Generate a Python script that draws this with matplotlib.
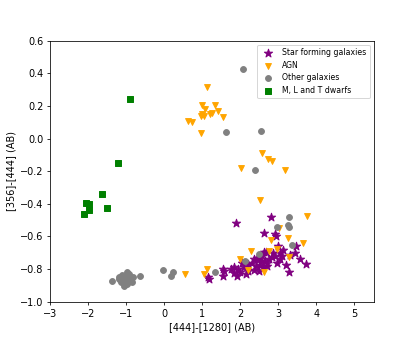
import matplotlib
matplotlib.use("Agg")
import matplotlib.pyplot as plt
import numpy as np

# colour-colour data
sf_x = [1.89, 2.81, 2.63, 2.94, 2.92, 3.45, 3.03, 3.57, 3.73, 3.29, 3.20, 3.30, 3.44,
        2.68, 1.18, 1.55, 1.54, 1.82, 2.00, 1.82, 1.95, 2.36, 2.52, 2.69, 2.47, 2.83,
        3.04, 2.63, 1.16, 1.58, 2.10, 2.20, 2.30, 2.40, 2.45, 2.55, 2.60, 2.75, 2.90,
        3.10, 2.20, 2.05, 1.75, 2.70, 2.85, 2.95, 3.12, 2.58, 2.35, 1.90, 2.15, 2.50,
        3.00, 2.65]
sf_y = [-0.52, -0.48, -0.576, -0.598, -0.585, -0.66, -0.70, -0.74, -0.77, -0.817, -0.776,
        -0.715, -0.704, -0.694, -0.858, -0.84, -0.80, -0.786, -0.82, -0.827, -0.80, -0.807,
        -0.776, -0.762, -0.745, -0.729, -0.74, -0.694, -0.85, -0.81, -0.79, -0.77, -0.76,
        -0.78, -0.73, -0.75, -0.79, -0.74, -0.72, -0.72, -0.81, -0.76, -0.80, -0.78, -0.70,
        -0.76, -0.68, -0.72, -0.74, -0.84, -0.83, -0.81, -0.66, -0.75]

agn_x = [1.12, 0.99, 1.06, 1.32, 1.00, 0.96, 1.20, 1.26, 1.41, 1.53, 0.61, 0.72, 0.97,
         1.05, 2.57, 2.73, 2.84, 2.01, 3.18, 2.52, 3.75, 3.02, 2.80, 3.24, 3.64, 2.28,
         2.74, 2.96, 1.99, 3.29, 1.13, 1.04, 2.63, 2.21, 0.54]
agn_y = [0.314, 0.207, 0.181, 0.205, 0.15, 0.14, 0.148, 0.158, 0.17, 0.13, 0.109, 0.101,
         0.034, 0.14, -0.087, -0.128, -0.136, -0.183, -0.193, -0.377, -0.474, -0.547,
         -0.623, -0.612, -0.639, -0.688, -0.688, -0.678, -0.741, -0.725, -0.80, -0.833,
         -0.817, -0.807, -0.833]

oth_x = [2.06, 1.62, 2.53, 2.38, 3.27, 3.26, 3.29, 2.95, 3.35, 2.48, 2.12, 1.33,
         -1.37, -1.12, -0.99, -1.06, -0.82, -0.64, -0.03, 0.24, 0.18, -1.20, -1.15,
         -1.05, -0.95, -0.90, -0.85, -1.10, -1.00, -0.92, -1.18, -0.97]
oth_y = [0.426, 0.042, 0.046, -0.195, -0.48, -0.527, -0.545, -0.545, -0.653, -0.705,
         -0.752, -0.82, -0.874, -0.837, -0.817, -0.905, -0.848, -0.843, -0.807, -0.817,
         -0.843, -0.86, -0.88, -0.85, -0.86, -0.87, -0.88, -0.86, -0.875, -0.83, -0.85,
         -0.89]

dw_x = [-0.90, -1.23, -1.65, -2.05, -1.98, -1.97, -2.10, -1.50]
dw_y = [0.24, -0.15, -0.34, -0.395, -0.40, -0.435, -0.46, -0.425]


def plot():
    fig, ax = plt.subplots(figsize=(415 / 70, 339 / 70), dpi=70)
    fig.subplots_adjust(left=0.121, right=0.9, top=0.88, bottom=0.11)

    ax.scatter(sf_x, sf_y, marker='*', color='purple', s=80, label='Star forming galaxies')
    ax.scatter(agn_x, agn_y, marker='v', color='orange', s=36, label='AGN')
    ax.scatter(oth_x, oth_y, marker='o', color='grey', s=36, label='Other galaxies')
    ax.scatter(dw_x, dw_y, marker='s', color='green', s=30, label='M, L and T dwarfs')

    ax.set_xlim(-3, 5.5)
    ax.set_ylim(-1.0, 0.6)
    ax.set_xticks(range(-3, 6))
    ax.set_xlabel('[444]-[1280] (AB)')
    ax.set_ylabel('[356]-[444] (AB)')
    ax.legend(loc='upper right', fontsize=8)
    return fig


def main():
    fig = plot()
    fig.savefig("out.png", dpi=70)


if __name__ == "__main__":
    main()
